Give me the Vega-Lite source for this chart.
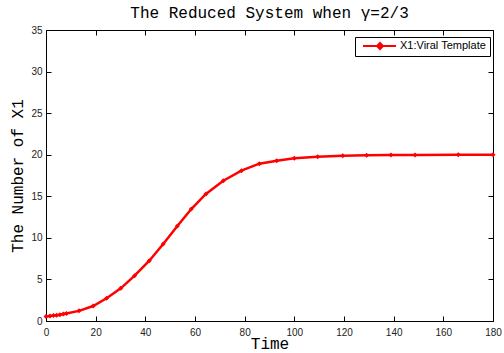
{
  "$schema": "https://vega.github.io/schema/vega-lite/v6.json",
  "width": 447,
  "height": 291,
  "autosize": "none",
  "padding": {"left": 46, "top": 30, "right": 11, "bottom": 32},
  "background": "white",
  "title": {
    "text": "The Reduced System when γ=2/3",
    "font": "Liberation Mono",
    "fontSize": 16,
    "fontWeight": "normal",
    "color": "black",
    "anchor": "middle",
    "offset": 4
  },
  "data": {
    "values": [
      {"t": 0, "x1": 0.55, "series": "X1:Viral Template"},
      {"t": 1.6, "x1": 0.6, "series": "X1:Viral Template"},
      {"t": 3.0, "x1": 0.65, "series": "X1:Viral Template"},
      {"t": 4.3, "x1": 0.7, "series": "X1:Viral Template"},
      {"t": 5.6, "x1": 0.76, "series": "X1:Viral Template"},
      {"t": 7.0, "x1": 0.83, "series": "X1:Viral Template"},
      {"t": 8.2, "x1": 0.9, "series": "X1:Viral Template"},
      {"t": 13.3, "x1": 1.22, "series": "X1:Viral Template"},
      {"t": 19.0, "x1": 1.8, "series": "X1:Viral Template"},
      {"t": 24.4, "x1": 2.73, "series": "X1:Viral Template"},
      {"t": 30.1, "x1": 3.93, "series": "X1:Viral Template"},
      {"t": 35.7, "x1": 5.45, "series": "X1:Viral Template"},
      {"t": 41.6, "x1": 7.25, "series": "X1:Viral Template"},
      {"t": 47.2, "x1": 9.26, "series": "X1:Viral Template"},
      {"t": 52.9, "x1": 11.43, "series": "X1:Viral Template"},
      {"t": 58.5, "x1": 13.47, "series": "X1:Viral Template"},
      {"t": 64.4, "x1": 15.28, "series": "X1:Viral Template"},
      {"t": 71.4, "x1": 16.87, "series": "X1:Viral Template"},
      {"t": 78.7, "x1": 18.08, "series": "X1:Viral Template"},
      {"t": 85.9, "x1": 18.92, "series": "X1:Viral Template"},
      {"t": 92.9, "x1": 19.28, "series": "X1:Viral Template"},
      {"t": 100.0, "x1": 19.57, "series": "X1:Viral Template"},
      {"t": 109.4, "x1": 19.76, "series": "X1:Viral Template"},
      {"t": 119.5, "x1": 19.88, "series": "X1:Viral Template"},
      {"t": 129.1, "x1": 19.95, "series": "X1:Viral Template"},
      {"t": 138.9, "x1": 19.97, "series": "X1:Viral Template"},
      {"t": 148.6, "x1": 19.98, "series": "X1:Viral Template"},
      {"t": 166.0, "x1": 19.99, "series": "X1:Viral Template"},
      {"t": 180.0, "x1": 20.0, "series": "X1:Viral Template"}
    ]
  },
  "config": {
    "view": {"stroke": "black", "strokeWidth": 1},
    "axis": {
      "grid": false,
      "domainColor": "black",
      "tickColor": "black",
      "tickSize": -5,
      "labelFont": "Liberation Sans",
      "labelFontSize": 10,
      "labelColor": "#222222",
      "titleFont": "Liberation Mono",
      "titleFontSize": 16,
      "titleFontWeight": "normal",
      "titleColor": "black"
    }
  },
  "layer": [
    {
      "mark": {
        "type": "line",
        "strokeWidth": 2.5,
        "point": {"filled": true, "shape": "diamond", "size": 25}
      },
      "encoding": {
        "x": {
          "field": "t",
          "type": "quantitative",
          "scale": {"domain": [0, 180], "nice": false, "zero": false},
          "axis": {"orient": "bottom", "title": "Time", "values": [0, 20, 40, 60, 80, 100, 120, 140, 160, 180], "labelPadding": 11, "titlePadding": -2, "labelFlush": false}
        },
        "y": {
          "field": "x1",
          "type": "quantitative",
          "scale": {"domain": [0, 35], "nice": false},
          "axis": {"orient": "left", "title": "The Number of X1", "values": [0, 5, 10, 15, 20, 25, 30, 35], "labelPadding": 9, "titlePadding": 5}
        },
        "color": {
          "field": "series",
          "type": "nominal",
          "scale": {"range": ["red"]},
          "legend": {
            "title": null,
            "orient": "none",
            "legendX": 309,
            "legendY": 7,
            "strokeColor": "black",
            "fillColor": "white",
            "padding": 3,
            "labelFont": "Liberation Sans",
            "labelFontSize": 11,
            "labelColor": "black",
            "labelOffset": 30,
            "symbolType": "M-0.2,0H6.4M3.2,-0.6L3.8,0L3.2,0.6L2.6,0Z",
            "symbolSize": 100,
            "symbolStrokeWidth": 2,
            "symbolFillColor": "red",
            "symbolStrokeColor": "red"
          }
        }
      }
    },
    {
      "mark": {"type": "line", "opacity": 0},
      "encoding": {
        "x": {
          "field": "t",
          "type": "quantitative",
          "axis": {"orient": "top", "title": null, "labels": false, "domain": false, "values": [0, 20, 40, 60, 80, 100, 120, 140, 160, 180]}
        },
        "y": {
          "field": "x1",
          "type": "quantitative",
          "axis": {"orient": "right", "title": null, "labels": false, "domain": false, "values": [0, 5, 10, 15, 20, 25, 30, 35]}
        }
      }
    }
  ],
  "resolve": {"axis": {"x": "independent", "y": "independent"}}
}
